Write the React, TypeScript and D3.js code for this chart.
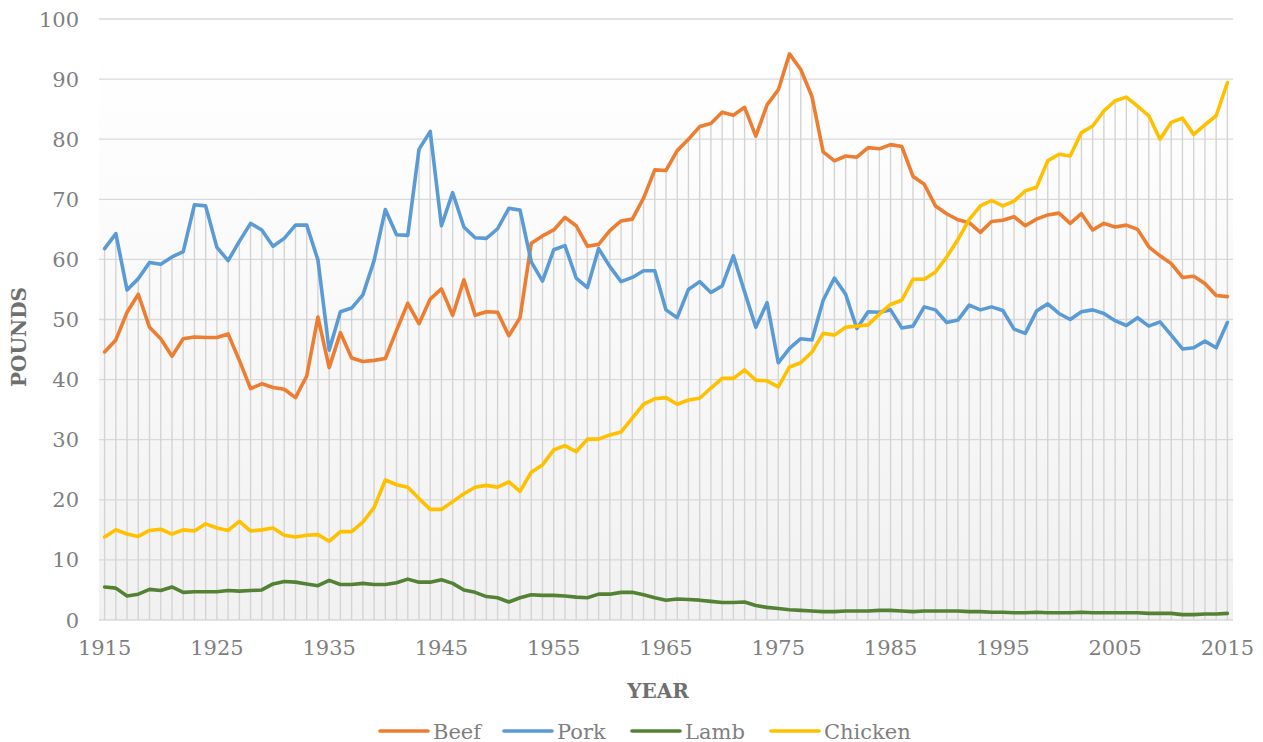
import React from "react";
import * as d3 from "d3";

const years: number[] = d3.range(1915, 2016);

const beef: number[] = [
  44.6, 46.6, 51.2, 54.2, 48.7, 46.8, 43.9, 46.8, 47.1, 47.0,
  47.0, 47.6, 43.2, 38.5, 39.3, 38.7, 38.4, 37.0, 40.6, 50.4,
  42.0, 47.8, 43.6, 43.0, 43.2, 43.5, 48.2, 52.7, 49.3, 53.4,
  55.1, 50.7, 56.6, 50.7, 51.3, 51.2, 47.3, 50.3, 62.7, 63.9,
  64.9, 67.0, 65.6, 62.2, 62.5, 64.8, 66.4, 66.7, 70.2, 74.9,
  74.8, 78.1, 80.0, 82.1, 82.6, 84.5, 84.0, 85.3, 80.5, 85.7,
  88.2, 94.2, 91.6, 87.1, 77.9, 76.4, 77.2, 77.0, 78.6, 78.4,
  79.1, 78.8, 73.8, 72.5, 68.9, 67.6, 66.6, 66.1, 64.5, 66.3,
  66.5, 67.1, 65.6, 66.7, 67.4, 67.7, 66.0, 67.6, 64.9, 66.0,
  65.4, 65.7, 65.0, 62.1, 60.6, 59.3, 57.0, 57.2, 56.0, 54.0,
  53.8,
];

const pork: number[] = [
  61.8, 64.3, 54.9, 56.8, 59.5, 59.2, 60.4, 61.3, 69.1, 68.9,
  62.0, 59.8, 63.0, 66.0, 64.9, 62.2, 63.5, 65.7, 65.7, 59.9,
  44.9, 51.3, 51.9, 54.1, 59.8, 68.3, 64.1, 64.0, 78.3, 81.3,
  65.6, 71.1, 65.4, 63.6, 63.5, 65.1, 68.5, 68.2, 59.6, 56.4,
  61.6, 62.3, 56.9, 55.3, 61.8, 58.8, 56.3, 57.0, 58.1, 58.1,
  51.6, 50.3, 55.0, 56.3, 54.5, 55.6, 60.6, 54.6, 48.7, 52.8,
  42.8, 45.2, 46.8, 46.6, 53.2, 56.9, 54.2, 48.5, 51.3, 51.2,
  51.6, 48.6, 48.9, 52.1, 51.6, 49.5, 49.9, 52.4, 51.6, 52.1,
  51.5, 48.4, 47.7, 51.4, 52.6, 51.0, 50.0, 51.3, 51.6, 51.0,
  49.8, 49.0, 50.3, 48.9, 49.6, 47.4, 45.1, 45.3, 46.4, 45.3,
  49.5,
];

const lamb: number[] = [
  5.5, 5.3, 4.0, 4.3, 5.1, 4.9, 5.5, 4.6, 4.7, 4.7,
  4.7, 4.9, 4.8, 4.9, 5.0, 6.0, 6.4, 6.3, 6.0, 5.7,
  6.6, 5.9, 5.9, 6.1, 5.9, 5.9, 6.2, 6.8, 6.3, 6.3,
  6.7, 6.1, 5.0, 4.6, 3.9, 3.7, 3.0, 3.7, 4.2, 4.1,
  4.1, 4.0, 3.8, 3.7, 4.3, 4.3, 4.6, 4.6, 4.2, 3.7,
  3.3, 3.5, 3.4, 3.3, 3.1, 2.9, 2.9, 3.0, 2.4, 2.1,
  1.9, 1.7, 1.6, 1.5, 1.4, 1.4, 1.5, 1.5, 1.5, 1.6,
  1.6, 1.5, 1.4, 1.5, 1.5, 1.5, 1.5, 1.4, 1.4, 1.3,
  1.3, 1.2, 1.2, 1.3, 1.2, 1.2, 1.2, 1.3, 1.2, 1.2,
  1.2, 1.2, 1.2, 1.1, 1.1, 1.1, 0.9, 0.9, 1.0, 1.0,
  1.1,
];

const chicken: number[] = [
  13.8, 15.0, 14.3, 13.9, 14.9, 15.1, 14.3, 15.0, 14.8, 16.0,
  15.3, 14.9, 16.4, 14.8, 15.0, 15.3, 14.1, 13.8, 14.1, 14.2,
  13.1, 14.7, 14.7, 16.3, 18.7, 23.3, 22.5, 22.1, 20.2, 18.4,
  18.4, 19.7, 21.0, 22.1, 22.4, 22.1, 23.0, 21.4, 24.6, 25.8,
  28.3, 29.0, 28.0, 30.1, 30.1, 30.8, 31.3, 33.6, 35.9, 36.8,
  37.0, 35.9, 36.6, 36.9, 38.6, 40.2, 40.2, 41.6, 39.9, 39.8,
  38.8, 42.1, 42.8, 44.6, 47.7, 47.4, 48.7, 48.9, 49.1, 50.9,
  52.5, 53.2, 56.7, 56.7, 57.9, 60.4, 63.3, 66.6, 68.9, 69.8,
  68.9, 69.7, 71.4, 72.0, 76.4, 77.5, 77.2, 81.1, 82.2, 84.7,
  86.4, 87.0, 85.5, 83.9, 80.0, 82.8, 83.5, 80.8, 82.4, 83.9,
  89.4,
];

const seriesNames: string[] = ["Beef", "Pork", "Lamb", "Chicken"];
const seriesColors: string[] = ["#ED7D31", "#5B9BD5", "#548235", "#FFC000"];
const yTicks: number[] = [0, 10, 20, 30, 40, 50, 60, 70, 80, 90, 100];
const xTickYears: number[] = [1915, 1925, 1935, 1945, 1955, 1965, 1975, 1985, 1995, 2005, 2015];

const W = 1263;
const H = 742;
const plotLeft = 99;
const plotRight = 1233;
const plotTop = 19;
const plotBottom = 620;
const FONT = "'DejaVu Serif', serif";

export default function App() {
  const x = d3.scaleLinear().domain([1914.5, 2015.5]).range([plotLeft, plotRight]);
  const y = d3.scaleLinear().domain([0, 100]).range([plotBottom, plotTop]);
  const allSeries = [beef, pork, lamb, chicken];

  const line = d3
    .line<number>()
    .x((_, i) => x(years[i]))
    .y((d) => y(d));

  const legendX = [380, 504, 632, 771];

  return (
    <>
      <style>{"html,body{margin:0;padding:0;overflow:hidden;}"}</style>
      <svg
        width={W}
        height={H}
        style={{ display: "block", position: "absolute", left: 0, top: 0, background: "#fff" }}
      >
        <defs>
          <linearGradient id="bg" x1="0" y1="0" x2="0" y2="1">
            <stop offset="0" stopColor="#ffffff" />
            <stop offset="0.13" stopColor="#fefefe" />
            <stop offset="1" stopColor="#f1f1f1" />
          </linearGradient>
        </defs>
        <rect
          x={plotLeft}
          y={plotTop}
          width={plotRight - plotLeft}
          height={plotBottom - plotTop}
          fill="url(#bg)"
        />
        {yTicks.map((t) => (
          <line
            key={"g" + t}
            x1={plotLeft}
            x2={plotRight}
            y1={y(t)}
            y2={y(t)}
            stroke="#d9d9d9"
            strokeWidth={1.3}
          />
        ))}
        {years.map((yr, i) => {
          const m = Math.max(beef[i], pork[i], lamb[i], chicken[i]);
          return (
            <line
              key={"d" + yr}
              x1={x(yr)}
              x2={x(yr)}
              y1={y(m)}
              y2={y(0)}
              stroke="#d4d4d4"
              strokeWidth={1.4}
            />
          );
        })}
        {yTicks.map((t) => (
          <text
            key={"yl" + t}
            x={79}
            y={y(t)}
            dy="0.36em"
            textAnchor="end"
            fontFamily={FONT}
            fontSize={21}
            fill="#7f7f7f"
          >
            {t}
          </text>
        ))}
        {xTickYears.map((yr) => (
          <text
            key={"xl" + yr}
            x={x(yr)}
            y={655}
            textAnchor="middle"
            fontFamily={FONT}
            fontSize={21}
            fill="#7f7f7f"
          >
            {yr}
          </text>
        ))}
        {allSeries.map((s, k) => (
          <path
            key={"s" + k}
            d={line(s) || ""}
            fill="none"
            stroke={seriesColors[k]}
            strokeWidth={3.6}
            strokeLinejoin="round"
            strokeLinecap="round"
          />
        ))}
        <text
          x={658}
          y={698}
          textAnchor="middle"
          fontFamily={FONT}
          fontWeight="bold"
          fontSize={20}
          fill="#6f6f6f"
        >
          YEAR
        </text>
        <text
          transform="translate(26,337) rotate(-90)"
          textAnchor="middle"
          fontFamily={FONT}
          fontWeight="bold"
          fontSize={20}
          fill="#6f6f6f"
        >
          POUNDS
        </text>
        {seriesNames.map((n, k) => (
          <g key={"lg" + n} transform={`translate(${legendX[k]},731)`}>
            <line x1={0} x2={48} y1={0} y2={0} stroke={seriesColors[k]} strokeWidth={3.6} strokeLinecap="round" />
            <text x={53} y={7.5} fontFamily={FONT} fontSize={21} fill="#7f7f7f">
              {n}
            </text>
          </g>
        ))}
      </svg>
    </>
  );
}
